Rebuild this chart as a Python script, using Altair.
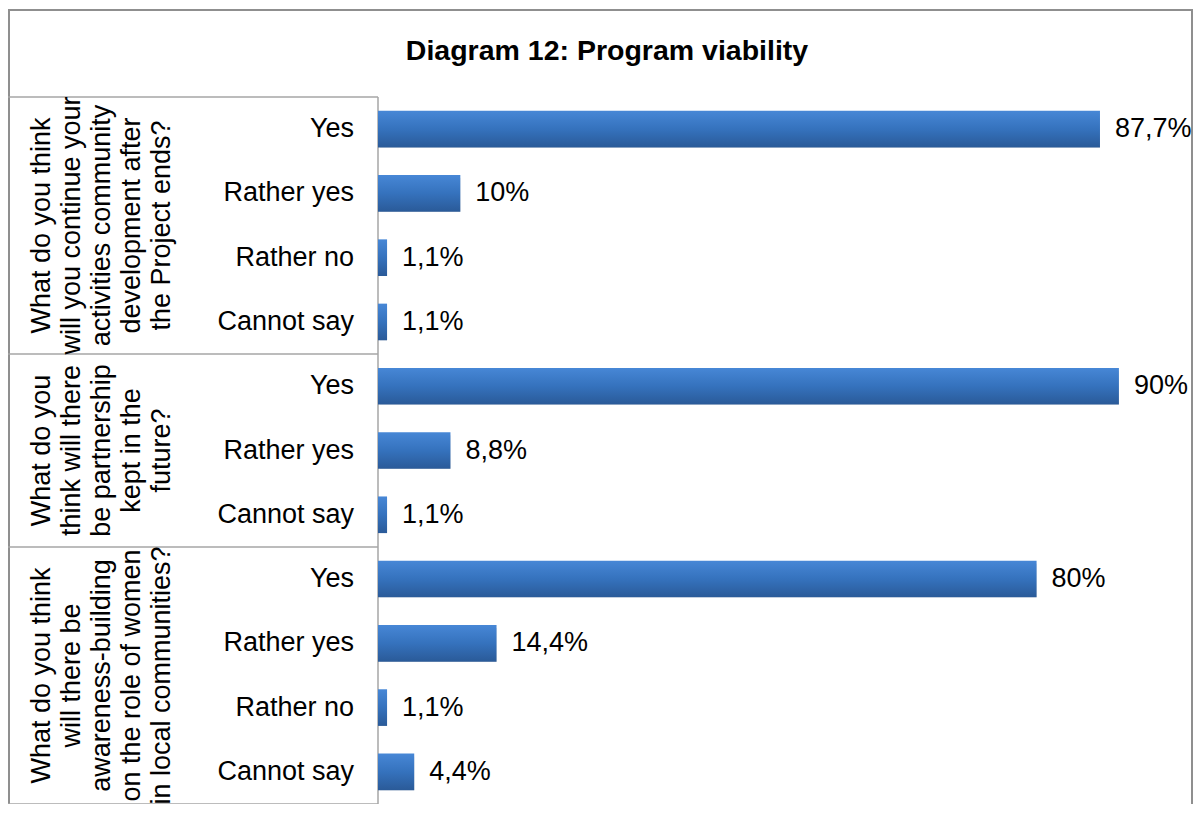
import altair as alt
import pandas as pd

# ---- data ----
answers = ["Yes", "Rather yes", "Rather no", "Cannot say",
           "Yes", "Rather yes", "Cannot say",
           "Yes", "Rather yes", "Rather no", "Cannot say"]
values = [87.7, 10, 1.1, 1.1, 90, 8.8, 1.1, 80, 14.4, 1.1, 4.4]
value_labels = ["87,7%", "10%", "1,1%", "1,1%", "90%", "8,8%", "1,1%",
                "80%", "14,4%", "1,1%", "4,4%"]
group_of_row = [0, 0, 0, 0, 1, 1, 1, 2, 2, 2, 2]
group_questions = [
    ["What do you think", "will you continue your", "activities community",
     "development after", "the Project ends?"],
    ["What do you", "think will there", "be partnership", "kept in the",
     "future?"],
    ["What do you think", "will there be", "awareness-building",
     "on the role of women", "in local communities?"],
]
title_text = ["Diagram 12: Program viability"]

FONT = "Liberation Sans"
FS = 27

rows = pd.DataFrame({
    "row": list(range(len(answers))),
    "answer": answers,
    "value": values,
    "label": value_labels,
    "group": group_of_row,
})

grp = pd.DataFrame({
    "group": [0, 1, 2],
    "text": ["\n".join(q) for q in group_questions],
})
grp["mid"] = [float(rows.loc[rows.group == g, "row"].mean()) for g in grp.group]

bounds = pd.DataFrame({
    "b": [float(rows.loc[rows.group == g, "row"].min()) - 0.5 for g in grp.group]
         + [float(rows.row.max()) + 0.5]
})

xscale = alt.Scale(domain=[0, 99], nice=False, zero=True)
yscale = alt.Scale(domain=[-0.5, len(answers) - 0.5], reverse=True,
                   nice=False, zero=False)

gradient = alt.Gradient(
    gradient="linear",
    stops=[alt.GradientStop(color="#4787d6", offset=0),
           alt.GradientStop(color="#3572bd", offset=0.5),
           alt.GradientStop(color="#2a5a98", offset=1)],
    x1=0, x2=0, y1=0, y2=1,
)

X = lambda f: alt.X(f, scale=xscale, axis=None)
Y = lambda f: alt.Y(f, scale=yscale, axis=None)

base = alt.Chart(rows).transform_calculate(
    lo="datum.row - 0.285", hi="datum.row + 0.285", zero="0"
)

shadow = base.mark_bar(color="#000000", opacity=0.16, xOffset=2, yOffset=3).encode(
    x=X("zero:Q"),
    x2="value:Q",
    y=Y("lo:Q"),
    y2="hi:Q",
)

bars = base.mark_bar(color=gradient).encode(
    x=X("zero:Q"),
    x2="value:Q",
    y=Y("lo:Q"),
    y2="hi:Q",
)

val_text = alt.Chart(rows).mark_text(
    align="left", baseline="middle", dx=15, fontSize=FS, font=FONT, color="#000000"
).encode(
    x=X("value:Q"),
    y=Y("row:Q"),
    text="label:N",
)

ans_text = alt.Chart(rows).mark_text(
    align="right", baseline="middle", fontSize=FS, font=FONT, color="#000000"
).encode(
    x=alt.value(-24),
    y=Y("row:Q"),
    text="answer:N",
)

grp_text = alt.Chart(grp).mark_text(
    align="center", baseline="middle", angle=270, fontSize=FS, font=FONT,
    lineHeight=30, lineBreak="\n", color="#000000"
).encode(
    x=alt.value(-336),
    y=Y("mid:Q"),
    text="text:N",
)

box_lines = alt.Chart(bounds).mark_rule(color="#a6a6a6", strokeWidth=1.5).encode(
    x=alt.value(-370),
    x2=alt.value(0),
    y=Y("b:Q"),
)

axis_line = alt.Chart(pd.DataFrame({"lo": [-0.5], "hi": [len(answers) - 0.5]})).mark_rule(
    color="#a6a6a6", strokeWidth=1.5
).encode(
    x=alt.value(0),
    y=Y("lo:Q"),
    y2="hi:Q",
)

# outer chart frame (left, top, right edges)
frame_left = alt.Chart(pd.DataFrame({"a": [0]})).mark_rule(
    color="#8f8f8f", strokeWidth=2).encode(
    x=alt.value(-369), y=alt.value(-87), y2=alt.value(720))
frame_top = alt.Chart(pd.DataFrame({"a": [0]})).mark_rule(
    color="#8f8f8f", strokeWidth=2).encode(
    x=alt.value(-370), x2=alt.value(815), y=alt.value(-87))
frame_right = alt.Chart(pd.DataFrame({"a": [0]})).mark_rule(
    color="#8f8f8f", strokeWidth=2).encode(
    x=alt.value(814), y=alt.value(-87), y2=alt.value(720))

title = alt.Chart(pd.DataFrame({"t": title_text})).mark_text(
    align="center", baseline="alphabetic", fontSize=28.5, fontWeight="bold",
    font=FONT, color="#000000"
).encode(
    x=alt.value(229),
    y=alt.value(-37),
    text="t:N",
)

chart = alt.layer(
    frame_left, frame_top, frame_right,
    box_lines, axis_line, shadow, bars, val_text, ans_text, grp_text, title
).properties(
    width=815,
    height=707,
    padding={"left": 370, "top": 89, "right": 1, "bottom": 0},
    autosize=alt.AutoSizeParams(type="none"),
    background="#ffffff",
).configure_view(stroke=None)

chart.save("out.html", embed_options={"renderer": "svg", "actions": False})
